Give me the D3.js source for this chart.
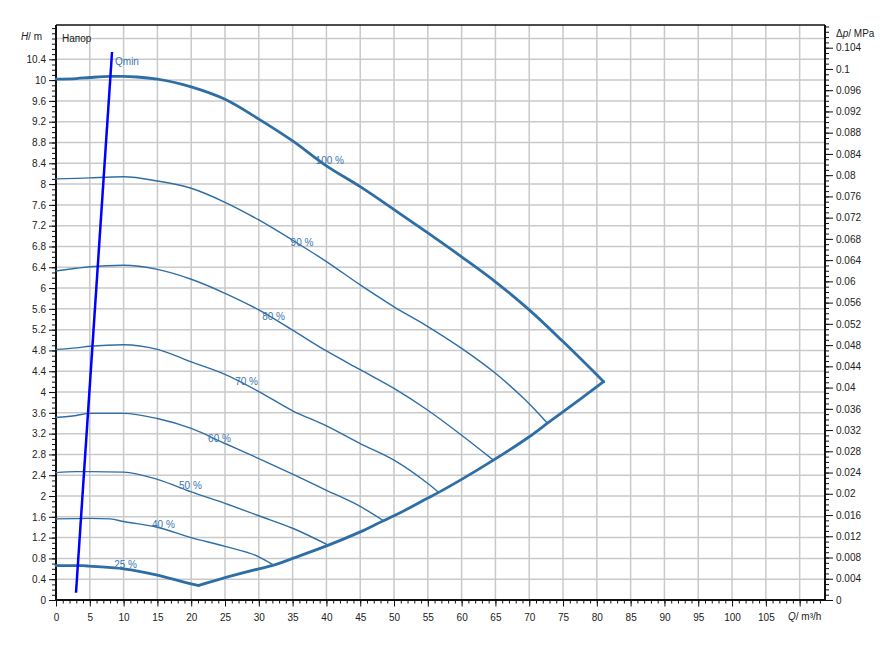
<!DOCTYPE html>
<html><head><meta charset="utf-8">
<script src="https://cdn.jsdelivr.net/npm/d3@7"></script>
<style>body{margin:0;background:#fff}svg text{font-family:"Liberation Sans",Arial,sans-serif}</style>
</head><body><svg id="c" width="896" height="649"></svg>
<script>
// ---- data ----
const speeds = ["100 %","90 %","80 %","70 %","60 %","50 %","40 %","25 %"];
const q100 = [0,3,5,8,10,12,15,20,25,30,35,40,45,50,55,60,65,70,75,81];
const h100 = [10.02,10.03,10.05,10.07,10.07,10.06,10.02,9.87,9.63,9.25,8.83,8.35,7.95,7.51,7.06,6.60,6.12,5.58,4.97,4.20];
const q90 = [0,3,5,10,15,20,25,30,35,40,45,50,55,60,65,69.4,72.7];
const h90 = [8.10,8.11,8.12,8.14,8.06,7.92,7.65,7.31,6.92,6.51,6.06,5.64,5.26,4.84,4.36,3.85,3.40];
const q80 = [0,3,5,10,15,20,25,30,35,40,45,50,55,60,64.7];
const h80 = [6.33,6.38,6.41,6.44,6.36,6.17,5.90,5.58,5.19,4.79,4.43,4.07,3.65,3.17,2.69];
const q70 = [0,3,5,10,15,20,25,30,35,40,45,50,55,56.6];
const h70 = [4.82,4.85,4.88,4.91,4.82,4.58,4.34,4.01,3.64,3.35,3.01,2.69,2.24,2.07];
const q60 = [0,3,5,10,15,20,25,30,35,40,45,48.5];
const h60 = [3.51,3.55,3.59,3.59,3.49,3.30,3.01,2.72,2.42,2.11,1.80,1.52];
const q50 = [0,3,5,10,15,20,25,30,35,40.2];
const h50 = [2.45,2.47,2.47,2.46,2.32,2.08,1.86,1.62,1.38,1.06];
const q40 = [0,5,8,10,15,20,25,30,32.2];
const h40 = [1.56,1.57,1.56,1.51,1.40,1.20,1.03,0.83,0.67];
const q25 = [0,4,5,10,15,20,21.1];
const h25 = [0.66,0.66,0.65,0.60,0.48,0.31,0.28];
const qMinLine = [21.1,25,30,32.2,35,40.2,45,48.5,50,55,56.6,60,64.7,70,72.7,77.4,81];
const hMinLine = [0.28,0.43,0.60,0.67,0.80,1.05,1.31,1.53,1.62,1.96,2.07,2.32,2.69,3.14,3.40,3.85,4.20];
const qminQ = [2.96,8.29];
const qminH = [0.14,10.54];
const labelQ = [38.4,34.7,30.5,26.5,22.5,18.2,14.2,8.6];
const labelH = [8.38,6.81,5.38,4.13,3.04,2.13,1.38,0.62];
const xTicks = d3.range(0,110,5);          // labelled 0..105
const yTicks = d3.range(0,10.41,0.4);      // labelled 0..10.4
const pTicks = d3.range(0,0.1041,0.004);   // labelled 0..0.104
const rhoG = 0.00979;                      // MPa per m

// ---- setup ----
const svg = d3.select("#c");
const x = d3.scaleLinear().domain([0,113.75]).range([56,825]);
const y = d3.scaleLinear().domain([0,11.06]).range([600,25]);
const yp = d3.scaleLinear().domain([0,11.06*rhoG]).range([600,25]);
const curveCol = "#2e6ea6", labelCol = "#3a76b0", axisCol = "#111", textCol = "#222";

// grid
const g = svg.append("g");
g.selectAll(".vg").data(d3.range(5,111,5)).join("line")
  .attr("x1",d=>x(d)).attr("x2",d=>x(d)).attr("y1",y(11.06)).attr("y2",y(0))
  .attr("stroke","#c9c9c9").attr("stroke-width",1.5);
g.selectAll(".hg").data(d3.range(0.4,10.81,0.4)).join("line")
  .attr("y1",d=>y(d)).attr("y2",d=>y(d)).attr("x1",x(0)).attr("x2",x(113.75))
  .attr("stroke","#c9c9c9").attr("stroke-width",1.5);

// axes
function styleAxis(sel){ sel.select(".domain").remove(); sel.selectAll("line").attr("stroke",axisCol);
  sel.selectAll("text").attr("fill",textCol).style("font-size","10px"); }
// left
svg.append("g").attr("transform","translate(56,0)")
  .call(d3.axisLeft(y).tickValues(d3.range(0,11.01,0.1)).tickSize(4).tickFormat(""))
  .call(styleAxis);
svg.append("g").attr("transform","translate(56,0)")
  .call(d3.axisLeft(y).tickValues(yTicks).tickSize(7).tickPadding(3).tickFormat(d=>d3.format("~g")(+d.toFixed(1))))
  .call(styleAxis);
// right
svg.append("g").attr("transform","translate(825,0)")
  .call(d3.axisRight(yp).tickValues(d3.range(0,0.1081,0.001)).tickSize(4).tickFormat(""))
  .call(styleAxis);
svg.append("g").attr("transform","translate(825,0)")
  .call(d3.axisRight(yp).tickValues(pTicks).tickSize(8).tickPadding(3).tickFormat(d=>d3.format("~g")(+d.toFixed(3))))
  .call(styleAxis);
// bottom
svg.append("g").attr("transform","translate(0,600)")
  .call(d3.axisBottom(x).tickValues(d3.range(0,114,1)).tickSize(3.5).tickFormat(""))
  .call(styleAxis);
svg.append("g").attr("transform","translate(0,600)")
  .call(d3.axisBottom(x).tickValues(d3.range(0,111,5)).tickSize(6.5).tickPadding(7).tickFormat(d=>d<=105?d:""))
  .call(styleAxis);

// frame
const fr = svg.append("g").attr("stroke",axisCol).attr("stroke-width",2);
fr.append("line").attr("x1",x(0)).attr("x2",x(0)).attr("y1",y(11.06)).attr("y2",y(0));
fr.append("line").attr("x1",x(0)).attr("x2",x(113.75)).attr("y1",y(0)).attr("y2",y(0));
fr.append("line").attr("x1",x(113.75)).attr("x2",x(113.75)).attr("y1",y(11.06)).attr("y2",y(0));
fr.append("line").attr("x1",x(0)).attr("x2",x(113.75)).attr("y1",y(11.06)).attr("y2",y(11.06)).attr("stroke-width",1.5);

// axis titles
const ht = svg.append("text").attr("x",42).attr("y",y(10.8)+1).attr("text-anchor","end")
  .attr("fill",textCol).style("font-size","10px");
ht.append("tspan").attr("font-style","italic").text("H");
ht.append("tspan").text("/ m");
const pt = svg.append("text").attr("x",836).attr("y",37).attr("fill",textCol).style("font-size","10px");
pt.append("tspan").text("\u0394");
pt.append("tspan").attr("font-style","italic").text("p");
pt.append("tspan").text("/ MPa");
const qt = svg.append("text").attr("x",x(110)+5).attr("y",620).attr("text-anchor","middle").attr("fill",textCol).style("font-size","10px");
qt.append("tspan").attr("font-style","italic").text("Q");
qt.append("tspan").text("/ m\u00b3/h");
svg.append("text").attr("x",62).attr("y",42).attr("fill",textCol).style("font-size","10px").text("Напор");

// curves
const curves = [[q100,h100],[q90,h90],[q80,h80],[q70,h70],[q60,h60],[q50,h50],[q40,h40],[q25,h25]];
const line = d3.line().x(d=>x(d[0])).y(d=>y(d[1])).curve(d3.curveMonotoneX);
const cg = svg.append("g").attr("fill","none").attr("stroke",curveCol).attr("stroke-linejoin","round").attr("stroke-linecap","round");
curves.forEach((c,i)=>{
  const pts = d3.zip(c[0],c[1]);
  cg.append("path").attr("d",line(pts)).attr("stroke-width",(i===0||i===7)?2.8:1.4);
});
cg.append("path").attr("d",line(d3.zip(qMinLine,hMinLine))).attr("stroke-width",2.8);

// labels
speeds.forEach((s,i)=>{
  svg.append("text").attr("x",x(labelQ[i])).attr("y",y(labelH[i])).attr("fill",labelCol)
    .style("font-size","10px").text(s);
});

// Qmin
svg.append("line").attr("x1",x(qminQ[0])).attr("y1",y(qminH[0])).attr("x2",x(qminQ[1])).attr("y2",y(qminH[1]))
  .attr("stroke","#0000ff").attr("stroke-width",2.5);
svg.append("text").attr("x",x(qminQ[1])+3).attr("y",y(qminH[1])+13).attr("fill",labelCol).style("font-size","10px").text("Qmin");
</script></body></html>
